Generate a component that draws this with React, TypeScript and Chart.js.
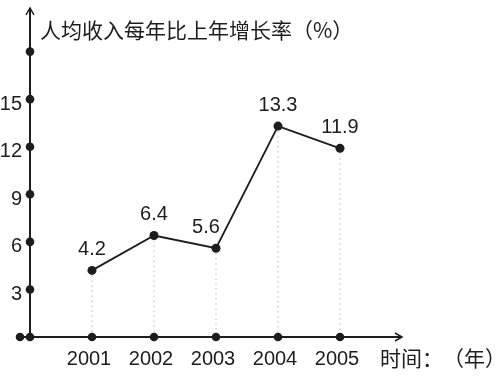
import React, { useEffect, useRef } from "react";
import { Chart, registerables } from "chart.js";

Chart.register(...registerables);

// ---- data ----
const years = ["2001", "2002", "2003", "2004", "2005"];
const growth = [4.2, 6.4, 5.6, 13.3, 11.9];
const yTickValues = [0, 3, 6, 9, 12, 15, 18];
const yTickLabels = ["", "3", "6", "9", "12", "15", ""];
const titleParts = ["人均收入每年比上年增长率", "（%）"];
const xUnitParts = ["时间：", "（年）"];

const INK = "#1d1d1d";
const NUM_FONT = '20px "Liberation Sans", Arial, sans-serif';
const CJK_SIZE = 21;
const CJK_FONT = `${CJK_SIZE}px "Noto Sans CJK SC", sans-serif`;

function dot(ctx: CanvasRenderingContext2D, x: number, y: number, r: number) {
  ctx.beginPath();
  ctx.arc(x, y, r, 0, Math.PI * 2);
  ctx.fill();
}

// draw pieces separately so full-width punctuation keeps its full advance
function drawParts(ctx: CanvasRenderingContext2D, parts: string[], x: number, y: number) {
  let cx = x;
  parts.forEach((p) => {
    ctx.fillText(p, cx, y);
    cx += CJK_SIZE * p.length;
  });
}

const schoolAxes = {
  id: "schoolAxes",
  beforeDatasetsDraw(chart: any) {
    const ctx: CanvasRenderingContext2D = chart.ctx;
    const xs = chart.scales.x;
    const ys = chart.scales.y;
    const ox = xs.getPixelForValue(0);
    const oy = ys.getPixelForValue(0);
    const xEnd = xs.getPixelForValue(xs.max);
    const yEnd = ys.getPixelForValue(ys.max);
    ctx.save();

    // dotted drop lines
    ctx.strokeStyle = "#b8b8b8";
    ctx.lineWidth = 1;
    ctx.setLineDash([1.5, 3.5]);
    growth.forEach((v, i) => {
      const px = xs.getPixelForValue(i + 1);
      ctx.beginPath();
      ctx.moveTo(px, ys.getPixelForValue(v));
      ctx.lineTo(px, oy);
      ctx.stroke();
    });
    ctx.setLineDash([]);

    // axis lines
    ctx.strokeStyle = INK;
    ctx.lineWidth = 2;
    ctx.beginPath();
    ctx.moveTo(ox - 10, oy);
    ctx.lineTo(xEnd, oy);
    ctx.stroke();
    ctx.beginPath();
    ctx.moveTo(ox, oy);
    ctx.lineTo(ox, yEnd);
    ctx.stroke();

    // arrow heads
    ctx.lineWidth = 1.5;
    ctx.beginPath();
    ctx.moveTo(xEnd - 7, oy - 4);
    ctx.lineTo(xEnd, oy);
    ctx.lineTo(xEnd - 7, oy + 4);
    ctx.stroke();
    ctx.beginPath();
    ctx.moveTo(ox - 4, yEnd + 7);
    ctx.lineTo(ox, yEnd);
    ctx.lineTo(ox + 4, yEnd + 7);
    ctx.stroke();

    // axis dots
    ctx.fillStyle = INK;
    dot(ctx, ox - 10, oy, 4.3);
    yTickValues.forEach((v) => dot(ctx, ox, ys.getPixelForValue(v), 4.3));
    years.forEach((_, i) => dot(ctx, xs.getPixelForValue(i + 1), oy, 4.3));

    // y tick labels
    ctx.font = NUM_FONT;
    ctx.textAlign = "right";
    ctx.textBaseline = "middle";
    yTickValues.forEach((v, i) => {
      if (yTickLabels[i]) ctx.fillText(yTickLabels[i], ox - 8, ys.getPixelForValue(v) + 5);
    });

    // x tick labels
    ctx.textAlign = "center";
    years.forEach((y, i) => {
      ctx.fillText(y, xs.getPixelForValue(i + 1) - 3, oy + 22);
    });

    // x unit and title
    ctx.font = CJK_FONT;
    ctx.textAlign = "left";
    drawParts(ctx, xUnitParts, xEnd - 22, oy + 21);
    drawParts(ctx, titleParts, ox + 10, 30);
    ctx.restore();
  },
  afterDatasetsDraw(chart: any) {
    const ctx: CanvasRenderingContext2D = chart.ctx;
    const xs = chart.scales.x;
    const ys = chart.scales.y;
    ctx.save();
    ctx.fillStyle = INK;
    ctx.font = NUM_FONT;
    ctx.textAlign = "center";
    ctx.textBaseline = "middle";
    growth.forEach((v, i) => {
      const next = growth[i + 1];
      const shift = next !== undefined && next - v > 3 ? -10 : 0;
      ctx.fillText(v.toFixed(1), xs.getPixelForValue(i + 1) + shift, ys.getPixelForValue(v) - 21);
    });
    ctx.restore();
  },
};

export default function App() {
  const ref = useRef<HTMLCanvasElement | null>(null);
  useEffect(() => {
    if (!ref.current) return;
    const chart = new Chart(ref.current, {
      type: "line",
      data: {
        datasets: [
          {
            data: growth.map((v, i) => ({ x: i + 1, y: v })),
            borderColor: INK,
            borderWidth: 1.8,
            pointRadius: 4.5,
            pointBackgroundColor: INK,
            pointBorderWidth: 0,
            tension: 0,
            clip: false as any,
          },
        ],
      },
      options: {
        responsive: false,
        animation: false,
        layout: { padding: { left: 30, right: 94, top: 8, bottom: 39 } },
        scales: {
          x: { type: "linear", min: 0, max: 6, display: false },
          y: { type: "linear", min: 0, max: 20.75, display: false },
        },
        plugins: { legend: { display: false }, tooltip: { enabled: false } },
      },
      plugins: [schoolAxes],
    });
    return () => chart.destroy();
  }, []);
  return (
    <div style={{ position: "absolute", left: 0, top: 0, width: 496, height: 376, background: "#fff" }}>
      <canvas ref={ref} width={496} height={376} style={{ display: "block" }} />
    </div>
  );
}
